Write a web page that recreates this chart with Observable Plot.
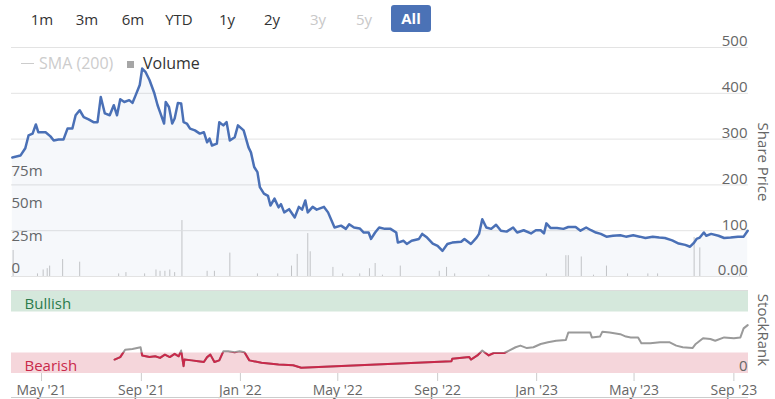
<!DOCTYPE html>
<html>
<head>
<meta charset="utf-8">
<script src="https://cdn.jsdelivr.net/npm/d3@7"></script>
<script src="https://cdn.jsdelivr.net/npm/@observablehq/plot@0.6"></script>
<style>
  body { margin: 0; background: #fff; }
  #wrap { position: relative; width: 775px; height: 399px; overflow: hidden; font-family: "Open Sans", sans-serif; background: #fff; }
  .layer { position: absolute; left: 0; }
  .btn { position: absolute; top: 8px; font-size: 15px; line-height: 22px; color: #333; transform: translateX(-50%); white-space: nowrap; }
  .btn.off { color: #c8c8c8; }
  .btn.on { top: 5px; width: 40px; height: 27px; line-height: 27px; text-align: center; background: #4b72b6; color: #fff; font-weight: 700; border-radius: 3px; transform: none; }
  .leg { position: absolute; font-size: 16px; line-height: 20px; white-space: nowrap; }
  .vtitle { position: absolute; writing-mode: vertical-rl; font-size: 15px; color: #666; white-space: nowrap; transform: translateY(-50%); }
  #bottom svg [aria-label="x-axis tick"] path, #bottom svg [aria-label="x-axis"] line { stroke: #ccc; }
  #bottom svg [aria-label="x-axis"] path.domain { display: none; }
</style>
</head>
<body>
<div id="wrap">
  <div id="vol" class="layer" style="top:0"></div>
  <div id="price" class="layer" style="top:0"></div>
  <div id="bottom" class="layer" style="top:285px"></div>
  <div id="bear" class="layer" style="top:285px"></div>
  <div id="ui"></div>
</div>
<script>
// ---------- data ----------
const rangeButtons = ["1m", "3m", "6m", "YTD", "1y", "2y", "3y", "5y", "All"];
const rangeDisabled = ["3y", "5y"];
const rangeActive = "All";

const priceDates = [
  "2021-03-26","2021-04-05","2021-04-11","2021-04-15","2021-04-20","2021-04-24","2021-04-27",
  "2021-05-06","2021-05-12","2021-05-16","2021-05-22","2021-05-28",
  "2021-06-02","2021-06-08","2021-06-12","2021-06-17","2021-06-22","2021-06-28",
  "2021-07-04","2021-07-09","2021-07-13","2021-07-18","2021-07-24","2021-07-29",
  "2021-08-02","2021-08-06","2021-08-11","2021-08-17","2021-08-21","2021-08-25","2021-08-30",
  "2021-09-02","2021-09-06","2021-09-11","2021-09-17","2021-09-21","2021-09-24","2021-09-29",
  "2021-10-01","2021-10-05","2021-10-09","2021-10-12","2021-10-16","2021-10-20","2021-10-23","2021-10-27","2021-10-31",
  "2021-11-06","2021-11-12","2021-11-17","2021-11-21","2021-11-24","2021-11-27",
  "2021-12-03","2021-12-06","2021-12-11","2021-12-15","2021-12-19","2021-12-25","2021-12-29",
  "2022-01-05","2022-01-11","2022-01-14","2022-01-18","2022-01-22","2022-01-25","2022-01-30",
  "2022-02-04","2022-02-07","2022-02-12","2022-02-17","2022-02-20","2022-02-24",
  "2022-03-02","2022-03-09","2022-03-14","2022-03-18","2022-03-22","2022-03-25","2022-03-31",
  "2022-04-05","2022-04-14","2022-04-19","2022-04-27",
  "2022-05-05","2022-05-11","2022-05-15","2022-05-21","2022-05-28",
  "2022-06-02","2022-06-08","2022-06-11","2022-06-16","2022-06-21","2022-06-28",
  "2022-07-05","2022-07-12","2022-07-14","2022-07-21","2022-07-25","2022-07-31",
  "2022-08-09","2022-08-13","2022-08-19","2022-08-26",
  "2022-09-01","2022-09-07","2022-09-13","2022-09-19","2022-09-30",
  "2022-10-04","2022-10-12","2022-10-19","2022-10-22","2022-10-26","2022-10-31",
  "2022-11-06","2022-11-12","2022-11-18","2022-11-25",
  "2022-12-03","2022-12-08","2022-12-16","2022-12-25","2022-12-31",
  "2023-01-06","2023-01-10","2023-01-13","2023-01-18","2023-01-26",
  "2023-02-03","2023-02-09","2023-02-18","2023-02-24",
  "2023-03-03","2023-03-09","2023-03-15","2023-03-21","2023-03-28",
  "2023-04-05","2023-04-14","2023-04-21","2023-04-30",
  "2023-05-08","2023-05-15","2023-05-24",
  "2023-06-01","2023-06-08","2023-06-17","2023-06-25",
  "2023-07-03","2023-07-09","2023-07-14","2023-07-17","2023-07-21","2023-07-26","2023-07-29",
  "2023-08-04","2023-08-13","2023-08-20","2023-08-28",
  "2023-09-06","2023-09-13","2023-09-18"
];
const priceValues = [
  260,264,280,308,312,332,315,
  315,306,297,299,299,
  323,323,352,363,348,343,
  337,337,392,356,352,374,
  352,387,381,385,379,396,418,
  454,447,429,400,374,359,334,
  381,370,334,345,379,378,337,334,323,
  319,312,315,293,301,286,
  290,337,330,337,297,304,330,
  319,282,271,239,228,195,181,
  176,155,170,151,158,140,
  147,129,152,146,166,140,152,
  146,152,140,107,
  111,104,114,107,105,
  96,96,82,96,107,104,
  104,96,74,78,71,78,
  82,93,85,72,
  67,56,71,74,76,
  82,71,85,93,125,107,
  104,113,100,98,
  107,96,101,94,101,
  101,94,116,106,106,
  104,108,108,100,
  107,101,96,93,87,
  89,90,87,90,
  87,84,87,
  85,84,79,72,
  69,65,74,82,85,96,89,
  93,89,84,85,
  87,87,100
];

const volumeDates = [
  "2021-03-27","2021-04-26","2021-05-03","2021-05-08","2021-05-11","2021-05-27","2021-06-17",
  "2021-08-04","2021-08-13","2021-09-05","2021-09-19","2021-09-24","2021-09-30","2021-10-06",
  "2021-10-12","2021-10-21","2021-11-21","2021-11-30","2021-12-19","2022-01-22","2022-02-16",
  "2022-03-05","2022-03-12","2022-03-25","2022-03-28","2022-04-25","2022-05-07","2022-05-28",
  "2022-06-09","2022-06-16","2022-06-25","2022-07-17","2022-09-03","2022-09-12","2022-09-22",
  "2022-11-03","2023-01-13","2023-02-06","2023-02-09","2023-02-25","2023-03-12","2023-03-28",
  "2023-04-23","2023-05-18","2023-05-30","2023-07-14","2023-07-21","2023-09-08"
];
const volumeValues = [
  20e6, 2e6, 5e6, 6e6, 8e6, 13e6, 11e6,
  2e6, 3e6, 2e6, 5e6, 4e6, 4e6, 5e6,
  3e6, 43e6, 4e6, 4e6, 18e6, 2e6, 2e6,
  8e6, 17e6, 33e6, 19e6, 7e6, 2e6, 2e6,
  6e6, 10e6, 1e6, 8e6, 4e6, 7e6, 2e6,
  1e6, 2e6, 16e6, 16e6, 15e6, 1e6, 8e6,
  2e6, 2e6, 2e6, 30e6, 22e6, 2e6
];

const rankDates = [
  "2021-07-30","2021-08-06","2021-08-12","2021-08-21","2021-08-31",
  "2021-09-02","2021-09-11","2021-09-18","2021-09-24","2021-09-30",
  "2021-10-06","2021-10-12","2021-10-17","2021-10-20","2021-10-23","2021-10-24",
  "2021-11-02","2021-11-10","2021-11-17","2021-11-21","2021-11-25","2021-11-30",
  "2021-12-06","2021-12-11","2021-12-17","2021-12-25","2021-12-31",
  "2022-01-06","2022-01-12","2022-01-27","2022-02-17","2022-03-07","2022-03-17",
  "2022-09-18","2022-09-19","2022-10-10","2022-10-12","2022-10-20","2022-10-26",
  "2022-11-03","2022-11-09","2022-11-22","2022-11-28",
  "2022-12-06","2022-12-12","2022-12-20","2022-12-28",
  "2023-01-06","2023-01-15","2023-01-25",
  "2023-02-06","2023-02-09","2023-02-25",
  "2023-03-08","2023-03-10","2023-03-20","2023-03-23",
  "2023-04-01","2023-04-14","2023-04-21","2023-04-27",
  "2023-05-06","2023-05-10","2023-05-21",
  "2023-06-02","2023-06-14","2023-06-22","2023-06-30",
  "2023-07-12","2023-07-16","2023-07-25",
  "2023-08-03","2023-08-09","2023-08-20",
  "2023-09-01","2023-09-09","2023-09-13","2023-09-18"
];
const rankValues = [
  17,20,29,30,32,
  22,20,21,19,23,
  20,24,21,28,9,17,
  16,15,14,20,23,14,
  16,27,27,26,27,
  26,16,13,11,10,7,
  15,18,20,17,22,28,
  22,25,25,28,
  32,34,31,32,
  36,38,40,
  41,50,50,
  50,44,45,51,
  50,48,45,44,
  44,37,37,
  38,38,34,32,
  31,36,43,
  42,40,44,
  43,44,55,59
];

const priceTicks = [0, 100, 200, 300, 400, 500];
const priceTickLabels = ["0.00", "100", "200", "300", "400", "500"];
const volumeTicks = [0, 25e6, 50e6, 75e6];
const volumeTickLabels = ["0", "25m", "50m", "75m"];
const timeTicks = ["2021-05-01","2021-09-01","2022-01-01","2022-05-01","2022-09-01","2023-01-01","2023-05-01","2023-09-01"];
const timeTickLabels = ["May '21","Sep '21","Jan '22","May '22","Sep '22","Jan '23","May '23","Sep '23"];
const bandNames = ["Bearish", "Bullish"];
const bandLow = [0, 75];
const bandHigh = [25, 100];
const rankTicks = [0];
const rankTickLabels = ["0"];

// ---------- build ----------
const xDomain = [new Date("2021-03-25"), new Date("2023-09-19")];
const price = priceDates.map((d, i) => ({date: new Date(d), value: priceValues[i]}));
const volume = volumeDates.map((d, i) => ({date: new Date(d), value: volumeValues[i]}));
const rank = rankDates.map((d, i) => ({date: new Date(d), value: rankValues[i]}));
const bands = bandNames.map((n, i) => ({name: n, lo: bandLow[i], hi: bandHigh[i], mid: (bandLow[i] + bandHigh[i]) / 2}));
const tickLabelMap = new Map(timeTicks.map((d, i) => [+new Date(d), timeTickLabels[i]]));

const BLUE = "#4a70b6";
const RED = "#c9294a";
const FONT = "'Open Sans', sans-serif";
const common = {width: 775, marginLeft: 11, marginRight: 27};

const volPlot = Plot.plot({
  ...common, height: 290, marginTop: 47, marginBottom: 14,
  x: {type: "utc", domain: xDomain, axis: null},
  y: {domain: [0, 176e6], axis: null},
  style: {background: "#fff", fontFamily: FONT, overflow: "visible"},
  marks: [
    Plot.ruleX(volume, {x: "date", y1: 0, y2: "value", stroke: "#c8c8c8", strokeWidth: 1}),
    Plot.text(volumeTicks, {y: d => d, text: (d, i) => volumeTickLabels[i], frameAnchor: "left",
      textAnchor: "start", dy: -8, fill: "#666", fontSize: 15})
  ]
});
document.getElementById("vol").append(volPlot);

const pricePlot = Plot.plot({
  ...common, height: 290, marginTop: 47, marginBottom: 14,
  x: {type: "utc", domain: xDomain, axis: null},
  y: {domain: [0, 500], axis: null},
  style: {background: "transparent", fontFamily: FONT, overflow: "visible"},
  marks: [
    Plot.ruleY(priceTicks, {stroke: "#e3e3e3", strokeWidth: 1}),
    Plot.areaY(price, {x: "date", y: "value", fill: BLUE, fillOpacity: 0.05}),
    Plot.line(price, {x: "date", y: "value", stroke: BLUE, strokeWidth: 2.5}),
    Plot.text(priceTicks, {y: d => d, text: (d, i) => priceTickLabels[i], frameAnchor: "right",
      textAnchor: "end", dx: -1, dy: -6, fill: "#666", fontSize: 15})
  ]
});
document.getElementById("price").append(pricePlot);

const bottomPlot = Plot.plot({
  ...common, height: 114, marginTop: 6, marginBottom: 26,
  x: {type: "utc", domain: xDomain, ticks: timeTicks.map(d => new Date(d)),
      tickFormat: d => tickLabelMap.get(+d), tickSize: 8, tickPadding: 4, label: null},
  y: {domain: [0, 100], axis: null},
  style: {background: "transparent", fontFamily: FONT, fontSize: "14px", color: "#666", overflow: "visible"},
  marks: [
    Plot.ruleY([100], {stroke: "#dcdcdc", dy: -1}),
    Plot.rect(bands.filter(b => b.name === "Bullish"), {x1: () => xDomain[0], x2: () => xDomain[1], y1: "lo", y2: "hi", fill: "#d5e8dc"}),
    Plot.rect(bands.filter(b => b.name === "Bearish"), {x1: () => xDomain[0], x2: () => xDomain[1], y1: "lo", y2: "hi", fill: "#f5d6db"}),
    Plot.text(bands.filter(b => b.name === "Bullish"), {y: "mid", text: "name", frameAnchor: "left", textAnchor: "start", dx: 13, dy: 2, fill: "#2b7b4c", fontSize: 15}),
    Plot.text(bands.filter(b => b.name === "Bearish"), {y: "mid", text: "name", frameAnchor: "left", textAnchor: "start", dx: 13, dy: 3, fill: RED, fontSize: 15}),
    Plot.line(rank, {x: "date", y: "value", stroke: "#9a9a9a", strokeWidth: 2}),
    Plot.text(rankTicks, {y: d => d, text: (d, i) => rankTickLabels[i], frameAnchor: "right", textAnchor: "end", dx: -1, dy: -7, fill: "#666", fontSize: 15})
  ]
});
document.getElementById("bottom").append(bottomPlot);

// bearish zone of the rank line: the same line, clipped to the bearish band
const bearPlot = Plot.plot({
  ...common, height: 114, marginTop: 67.5, marginBottom: 26,
  x: {type: "utc", domain: xDomain, axis: null},
  y: {domain: [0, 25], axis: null},
  style: {background: "transparent", fontFamily: FONT},
  marks: [
    Plot.line(rank, {x: "date", y: "value", stroke: RED, strokeWidth: 2, clip: true})
  ]
});
document.getElementById("bear").append(bearPlot);

// ---------- html chrome ----------
const ui = document.getElementById("ui");
const btnX = [42, 87, 133, 179, 227, 272, 318, 364, 391];
rangeButtons.forEach((b, i) => {
  const s = document.createElement("div");
  s.className = "btn" + (rangeDisabled.includes(b) ? " off" : "") + (b === rangeActive ? " on" : "");
  s.style.left = btnX[i] + "px";
  s.textContent = b;
  ui.append(s);
});
ui.insertAdjacentHTML("beforeend", `
  <div style="position:absolute;left:21px;top:63px;width:13px;height:1px;background:#ccc"></div>
  <div class="leg" style="left:39px;top:53px;color:#ccc">SMA (200)</div>
  <div style="position:absolute;left:127px;top:61px;width:7px;height:7px;background:#a6a6a6"></div>
  <div class="leg" style="left:143px;top:53px;color:#333">Volume</div>
  <div class="vtitle" style="left:754px;top:162px">Share Price</div>
  <div class="vtitle" style="left:754px;top:330px">StockRank</div>
  <div style="position:absolute;left:11px;top:397px;width:737px;height:1px;background:#ccc"></div>
`);
</script>
</body>
</html>
